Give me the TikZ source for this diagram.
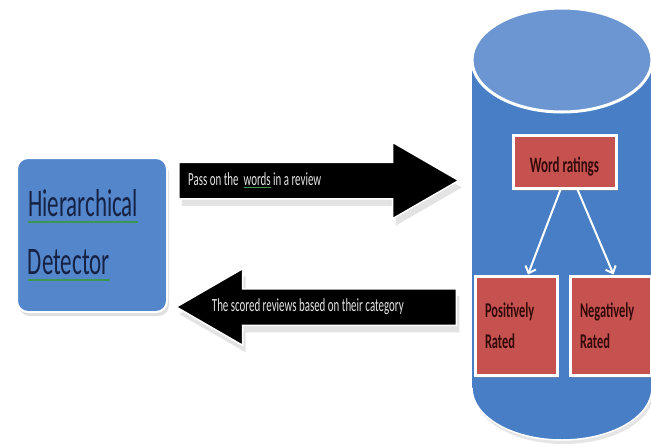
\documentclass[tikz,border=0pt]{standalone}
\usepackage{fontspec}
\usetikzlibrary{shapes.arrows,shadows,arrows.meta,positioning}
\newfontfamily\slimfont[FakeStretch=0.59]{Carlito}
\definecolor{boxblue}{RGB}{84,134,204}
\definecolor{cylblue}{RGB}{72,126,198}
\definecolor{lidblue}{RGB}{108,150,210}
\definecolor{ratered}{RGB}{198,82,80}
\definecolor{navytext}{RGB}{22,34,68}
\definecolor{redtext}{RGB}{50,10,10}
\definecolor{spellgreen}{RGB}{60,150,80}
\newsavebox\spellbox
\newcommand\spellmark[1]{\leavevmode\sbox\spellbox{#1}\rlap{\textcolor{spellgreen}{\rule[-0.17em]{\wd\spellbox}{0.06em}}}\usebox\spellbox}
\begin{document}
\begin{tikzpicture}[x=1pt, y=-1pt,
    softshadow/.style={drop shadow={shadow xshift=2pt, shadow yshift=-4pt, fill=black!25}},
    detbox/.style={rectangle, rounded corners=11pt, fill=boxblue, draw=white, line width=2pt,
        minimum width=150pt, minimum height=154pt, text width=128pt, inner xsep=11pt,
        align=left, text=navytext, font=\slimfont\fontsize{39}{58}\selectfont, softshadow},
    bigarrow/.style={single arrow, fill=black, draw=white, line width=1.5pt,
        minimum height=280pt, inner xsep=0pt, inner ysep=17.5pt, text height=0pt, text depth=0pt,
        single arrow head extend=20pt, single arrow tip angle=60,
        drop shadow={shadow xshift=3pt, shadow yshift=-7pt, fill=black!22}},
    arrowtext/.style={inner sep=0pt, text=black!10, font=\slimfont\fontsize{18.5}{20}\selectfont},
    ratebox/.style={rectangle, fill=ratered, draw=white, line width=3pt, text=redtext,
        drop shadow={shadow xshift=2pt, shadow yshift=-3pt, fill=black!45}},
    ratetext/.style={ratebox, align=left, inner xsep=10pt,
        font=\slimfont\bfseries\fontsize{21}{31}\selectfont},
    rateline/.style={draw=white, line width=2pt, -{Straight Barb[length=6pt, width=11pt]}}
  ]
  \useasboundingbox (0,0) rectangle (651,445);

  \node[detbox] (det) at (92,235) {\spellmark{Hierarchical}\\\spellmark{Detector}};

  \node[bigarrow, anchor=tail] (pass) at (178,180.5) {};
  \node[arrowtext, right=10pt of pass.tail] (passlbl) {Pass on the\ \ \spellmark{words} in a review};

  \node[bigarrow, shape border rotate=180, anchor=tail] (back) at (457,307) {};
  \node[arrowtext, right=37pt of back.tip] (backlbl) {The scored reviews based on their category};

  % word store
  \fill[cylblue, drop shadow={shadow xshift=2pt, shadow yshift=-4pt, fill=black!20}]
    (472,60) -- (472,388) arc[start angle=180, end angle=0, x radius=90, y radius=52] -- (652,60) -- cycle;
  \draw[white, line width=1.5pt] (472,388) arc[start angle=180, end angle=0, x radius=90, y radius=52];
  \filldraw[fill=lidblue, draw=white, line width=3pt] (562,60) ellipse[x radius=90, y radius=52];

  \node[ratebox, minimum width=103pt, minimum height=53pt,
        font=\slimfont\bfseries\fontsize{22}{24}\selectfont] (rating) at (564.5,161.5)
        {\raisebox{-5pt}[\height][\depth]{Word ratings}};
  \node[ratetext, minimum width=82pt, minimum height=99pt, text width=62pt] (pos) at (516,325.5) {Positively\\Rated};
  \node[ratetext, minimum width=81pt, minimum height=99pt, text width=61pt] (neg) at (610.5,325.5) {Negatively\\Rated};

  \draw[rateline] ([xshift=-4pt]rating.south) -- ([xshift=12pt]pos.north);
  \draw[rateline] ([xshift=13pt]rating.south) -- ([xshift=3pt]neg.north);
\end{tikzpicture}
\end{document}
